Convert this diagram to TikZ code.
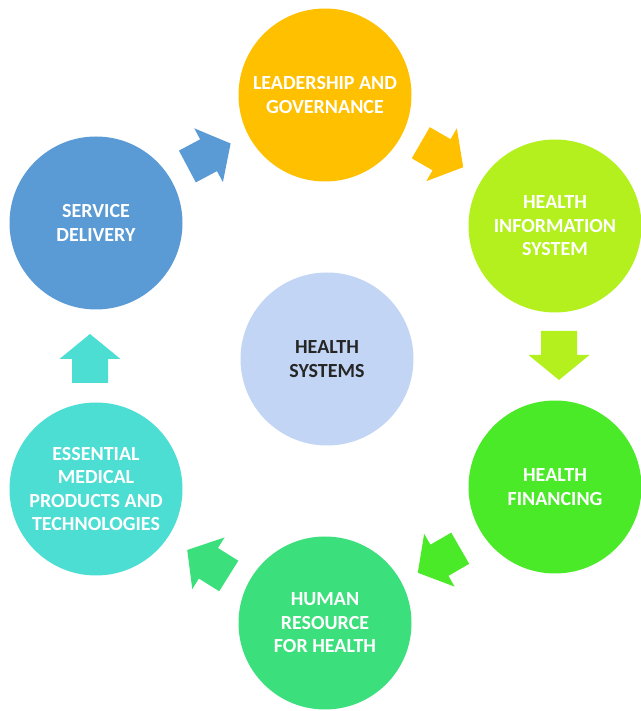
\documentclass[tikz,border=0pt]{standalone}
\usepackage{fontspec}
\setmainfont{Carlito}
\definecolor{leadc}{HTML}{FFC000}
\definecolor{infoc}{HTML}{B3F01D}
\definecolor{finc}{HTML}{4BEA28}
\definecolor{hrc}{HTML}{3BE07C}
\definecolor{empc}{HTML}{4CDDD3}
\definecolor{sdc}{HTML}{5B9BD5}
\definecolor{hsc}{HTML}{C2D5F4}
\definecolor{hstext}{HTML}{262626}
\tikzset{
  pillar/.style={circle, minimum size=129.75pt, inner sep=0pt, align=center,
    text=white, font=\fontsize{15}{17.6}\selectfont\bfseries},
  blockarrow/.pic={\fill (-24.5,-18) -- (-0.5,-18) -- (-0.5,-30.5) -- (24.5,0)
    -- (-0.5,30.5) -- (-0.5,18) -- (-24.5,18) -- cycle;}
}
\begin{document}
\begin{tikzpicture}[x=0.75pt, y=0.75pt]
  \useasboundingbox (0,0) rectangle (640,711);
  % the six building blocks
  \node[pillar, fill=leadc] at (325,616) (lead) {LEADERSHIP AND\\GOVERNANCE};
  \node[pillar, fill=infoc] at (555,485) (info) {HEALTH\\INFORMATION\\SYSTEM};
  \node[pillar, fill=finc] at (555,224) (fin) {HEALTH\\FINANCING};
  \node[pillar, fill=hrc] at (325,88) (hr) {HUMAN\\RESOURCE\\FOR HEALTH};
  \node[pillar, fill=empc] at (96,222) (emp) {ESSENTIAL\\MEDICAL\\PRODUCTS AND\\TECHNOLOGIES};
  \node[pillar, fill=sdc] at (96,488) (sd) {SERVICE\\DELIVERY};
  \node[pillar, fill=hsc, text=hstext] at (327,352) (hs) {HEALTH\\SYSTEMS};
  % arrows round the cycle
  \pic[sdc, rotate=28] (arrsd) at (209,556) {blockarrow};
  \pic[leadc, rotate=-30] (arrlead) at (442,556) {blockarrow};
  \pic[infoc, rotate=-90] (arrinfo) at (559,355.5) {blockarrow};
  \pic[finc, rotate=210] (arrfin) at (439,150.5) {blockarrow};
  \pic[hrc, rotate=148] (arrhr) at (208,148) {blockarrow};
  \pic[empc, rotate=90] (arremp) at (90,352.5) {blockarrow};
\end{tikzpicture}
\end{document}
